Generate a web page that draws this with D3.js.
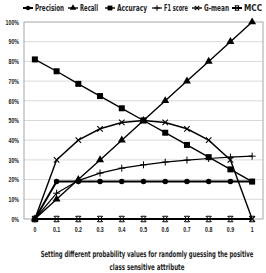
<!DOCTYPE html>
<html lang="en">
<head>
<meta charset="UTF-8">
<title>Random guessing metrics</title>
<script src="https://d3js.org/d3.v7.min.js"></script>
<style>
    body { margin: 0; background: #fff; }
    svg { font-family: "DejaVu Sans Condensed", "Liberation Sans Narrow", sans-serif; font-weight: bold; }
    .grid line { stroke: #d9d9d9; stroke-width: 1; }
    .axis text { font-size: 7px; fill: #222; }
</style>
</head>
<body>
<div id="chart"></div>
<script>
// x categories (probability of guessing positive)
var probs = ["0", "0.1", "0.2", "0.3", "0.4", "0.5", "0.6", "0.7", "0.8", "0.9", "1"];
var yTicks = [0, 10, 20, 30, 40, 50, 60, 70, 80, 90, 100];

// series values in %
var precision = [0, 19, 19, 19, 19, 19, 19, 19, 19, 19, 19];
var recall    = [0, 10, 20, 30, 40, 50, 60, 70, 80, 90, 100];
var accuracy  = [81, 75, 68.6, 62.4, 56.2, 50, 43.8, 37.6, 31.4, 25.2, 19];
var f1score   = [0, 13.1, 19.5, 23.3, 25.8, 27.5, 28.9, 29.9, 30.7, 31.4, 31.9];
var gmean     = [0, 30, 40, 45.8, 49, 50, 49, 45.8, 40, 30, 0];
var mcc       = [0, 0, 0, 0, 0, 0, 0, 0, 0, 0, 0];

var titleLines = ["Setting different probability values for randomly guessing the positive",
                  "class sensitive attribute"];

var series = [
    {name: "Precision", values: precision, marker: "circle", width: 2},
    {name: "Recall", values: recall, marker: "triangle", width: 1.4},
    {name: "Accuracy", values: accuracy, marker: "square", width: 1.4},
    {name: "F1 score", values: f1score, marker: "plus", width: 1.2},
    {name: "G-mean", values: gmean, marker: "cross", width: 1.4},
    {name: "MCC", values: mcc, marker: "star", width: 2}
];

var W = 266, H = 273;
var margin = {top: 22, right: 3, bottom: 54, left: 24};
var width = W - margin.left - margin.right,
    height = H - margin.top - margin.bottom;

var svg = d3.select("#chart").append("svg")
    .attr("width", W)
    .attr("height", H);

var g = svg.append("g")
    .attr("transform", "translate(" + margin.left + "," + margin.top + ")");

var x = d3.scaleBand().domain(probs).range([0, width]);
var y = d3.scaleLinear().domain([0, 100]).range([height, 0]);
var cx = function(i) { return x(probs[i]) + x.bandwidth() / 2; };

// squeeze text horizontally, the original font is a narrow one
function narrow(sel, k) {
    sel.each(function() {
        var w = this.getComputedTextLength();
        d3.select(this).attr("textLength", w * k).attr("lengthAdjust", "spacingAndGlyphs");
    });
}

// gridlines
g.append("g").attr("class", "grid")
    .selectAll("line").data(yTicks.slice(1, -1)).enter().append("line")
    .attr("x1", 0).attr("x2", width)
    .attr("y1", function(d) { return y(d); })
    .attr("y2", function(d) { return y(d); });

// plot area border
g.append("rect")
    .attr("width", width).attr("height", height)
    .attr("fill", "none").attr("stroke", "#a6a6a6").attr("stroke-width", 1);

// y axis labels
var yAxis = g.append("g").attr("class", "axis")
    .call(d3.axisLeft(y).tickValues(yTicks).tickFormat(function(d) { return d + "%"; }).tickSize(0).tickPadding(5));
yAxis.select(".domain").remove();
narrow(yAxis.selectAll("text"), 0.75);

// x axis labels
var xAxis = g.append("g").attr("class", "axis")
    .attr("transform", "translate(0," + height + ")")
    .call(d3.axisBottom(x).tickSize(0).tickPadding(8));
xAxis.select(".domain").remove();
narrow(xAxis.selectAll("text"), 0.75);

// axis title, two lines squeezed to the widths in the picture
var titleW = [213, 75];
titleLines.forEach(function(t, i) {
    var tg = svg.append("g");
    var txt = tg.append("text")
        .attr("text-anchor", "middle")
        .attr("font-size", "8.5px")
        .attr("fill", "#222")
        .text(t);
    var k = titleW[i] / txt.node().getComputedTextLength();
    tg.attr("transform", "translate(147," + (257 + i * 13) + ") scale(" + k + ",1)");
});

function drawMarker(sel, type, size) {
    var s = size;
    if (type === "circle") {
        sel.append("circle").attr("r", s * 0.55).attr("fill", "#000");
    } else if (type === "square") {
        sel.append("rect").attr("x", -s * 0.6).attr("y", -s * 0.6)
            .attr("width", s * 1.2).attr("height", s * 1.2).attr("fill", "#000");
    } else if (type === "triangle") {
        sel.append("path").attr("d", d3.symbol().type(d3.symbolTriangle).size(s * s * 1.1)()).attr("fill", "#000");
    } else if (type === "plus") {
        sel.append("path").attr("d", "M" + (-s * 0.7) + ",0H" + (s * 0.7) + "M0," + (-s * 0.7) + "V" + (s * 0.7))
            .attr("stroke", "#000").attr("stroke-width", 1);
    } else if (type === "cross") {
        sel.append("path").attr("d", "M" + (-s * 0.55) + "," + (-s * 0.55) + "L" + (s * 0.55) + "," + (s * 0.55) +
            "M" + (-s * 0.55) + "," + (s * 0.55) + "L" + (s * 0.55) + "," + (-s * 0.55))
            .attr("stroke", "#000").attr("stroke-width", 1.1);
    } else if (type === "star") {
        sel.append("path").attr("d", "M" + (-s * 0.55) + "," + (-s * 0.55) + "L" + (s * 0.55) + "," + (s * 0.55) +
            "M" + (-s * 0.55) + "," + (s * 0.55) + "L" + (s * 0.55) + "," + (-s * 0.55) +
            "M" + (-s * 0.5) + "," + (-s * 0.55) + "H" + (s * 0.5) + "M" + (-s * 0.5) + "," + (s * 0.55) + "H" + (s * 0.5))
            .attr("stroke", "#000").attr("stroke-width", 1);
    }
}

var line = d3.line()
    .x(function(d, i) { return cx(i); })
    .y(function(d) { return y(d); });

series.forEach(function(s) {
    g.append("path").datum(s.values)
        .attr("d", line)
        .attr("fill", "none")
        .attr("stroke", "#000")
        .attr("stroke-width", s.width);
    s.values.forEach(function(v, i) {
        var m = g.append("g").attr("transform", "translate(" + cx(i) + "," + y(v) + ")");
        drawMarker(m, s.marker, 5);
    });
});

// legend
var legendX = [23, 68, 105, 152, 192, 232];
var legendW = [29, 18, 30, 24, 25, 18];
var legend = svg.append("g").attr("transform", "translate(0,8)");
series.forEach(function(s, i) {
    var it = legend.append("g").attr("transform", "translate(" + legendX[i] + ",0)");
    it.append("line").attr("x1", 0).attr("x2", 10).attr("y1", 0).attr("y2", 0)
        .attr("stroke", "#000").attr("stroke-width", s.width);
    drawMarker(it.append("g").attr("transform", "translate(5,0)"), s.marker, 4);
    it.append("text").attr("x", 12).attr("y", 3)
        .attr("font-size", "8px").attr("fill", "#222")
        .attr("textLength", legendW[i]).attr("lengthAdjust", "spacingAndGlyphs")
        .text(s.name);
});
</script>
</body>
</html>
